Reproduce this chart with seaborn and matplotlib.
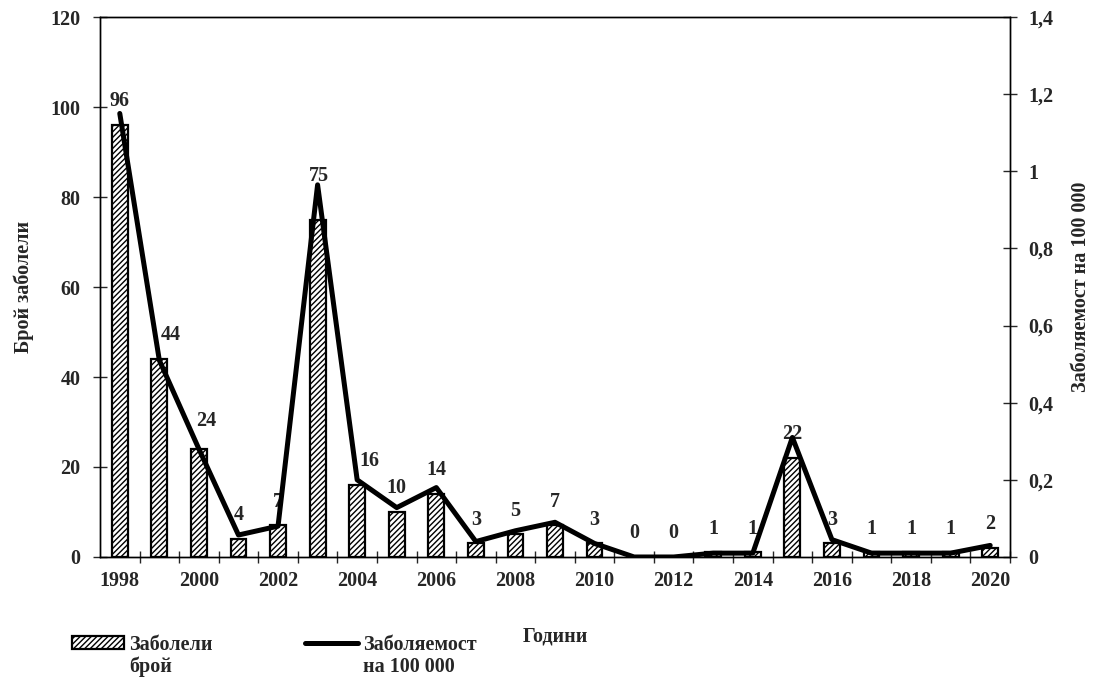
import numpy as np
import pandas as pd
import matplotlib
matplotlib.use("Agg")
import matplotlib.pyplot as plt
from matplotlib.patches import Patch
from matplotlib.lines import Line2D
from matplotlib.ticker import FixedLocator, FuncFormatter
import seaborn as sns

# Annual data
years = list(range(1998, 2021))
cases = [96, 44, 24, 4, 7, 75, 16, 10, 14, 3, 5, 7, 3, 0, 0, 1, 1, 22, 3, 1, 1, 1, 2]
incidence = [1.15, 0.51, 0.28, 0.057, 0.08, 0.965, 0.20, 0.128, 0.18, 0.04, 0.068, 0.09,
             0.035, 0.0, 0.0, 0.01, 0.01, 0.31, 0.045, 0.01, 0.01, 0.01, 0.03]

left_ticks = [0, 20, 40, 60, 80, 100, 120]
right_ticks = [0, 0.2, 0.4, 0.6, 0.8, 1.0, 1.2, 1.4]

legend_first = ["Заболели", "Заболяемост"]
legend_second = ["брой", "на 100 000"]

sns.set_style("white")
plt.rcParams["font.family"] = ["Liberation Serif", "DejaVu Serif"]
plt.rcParams["font.weight"] = "bold"
plt.rcParams["hatch.linewidth"] = 1.0

FS = 14.5
LFS = 14.5
LW = 3.6

df = pd.DataFrame({"year": years, "cases": cases, "incidence": incidence})
df["pos"] = np.arange(len(df))

fig = plt.figure(figsize=(10.94, 6.82), dpi=100)
ax = fig.add_axes([0.0914, 0.1833, 0.8318, 0.7917])

sns.barplot(data=df, x="pos", y="cases", color="white", edgecolor="black",
            linewidth=1.6, width=0.4, ax=ax, native_scale=True)
for p in ax.patches:
    p.set_hatch("//////")
    p.set_facecolor("white")
    p.set_edgecolor("black")

ax2 = ax.twinx()
sns.lineplot(data=df, x="pos", y="incidence", color="black", linewidth=LW, ax=ax2)

ax.set_xlim(-0.5, len(years) - 0.5)
ax.set_ylim(0, 120)
ax2.set_ylim(0, 1.4)

# x axis: year labels every second year, tick marks on category boundaries
ax.xaxis.set_major_locator(FixedLocator(list(range(0, len(years), 2))))
ax.set_xticklabels([str(y) for y in years[::2]])
ax.xaxis.set_minor_locator(FixedLocator(list(np.arange(0.5, len(years), 1.0))))
ax.tick_params(axis="x", which="major", length=0, pad=10, labelsize=FS)
ax.tick_params(axis="x", which="minor", length=8, width=1, direction="inout", bottom=True)

ax.set_yticks(left_ticks)
ax.tick_params(axis="y", length=10, width=1, direction="inout", labelsize=FS, pad=9, left=True)
ax2.set_yticks(right_ticks)
ax2.yaxis.set_major_formatter(FuncFormatter(lambda v, _: f"{v:g}".replace(".", ",")))
ax2.tick_params(axis="y", length=10, width=1, direction="inout", labelsize=FS, pad=8, right=True)

for a in (ax, ax2):
    for s in a.spines.values():
        s.set_color("black")
        s.set_linewidth(1.0)

ax.set_xlabel("Години", fontsize=FS, fontweight="bold", labelpad=26)
ax.set_ylabel("Брой заболели", fontsize=FS, fontweight="bold", labelpad=12)
ax2.set_ylabel("Заболяемост на 100 000", fontsize=FS, fontweight="bold", labelpad=13)

# value labels above the bars (some nudged away from the line)
nudge = {1999: (8, 0), 2000: (5, 3), 2003: (1, 14), 2004: (9, 0)}
for x, y, v in zip(df["pos"], df["cases"], df["year"]):
    dx, dy = nudge.get(v, (0, 0))
    ax.annotate(f"{y}", (x, y), xytext=(dx, 17 + dy), textcoords="offset points",
                ha="center", va="center", fontsize=FS, fontweight="bold", zorder=5)

handles = [Patch(facecolor="white", edgecolor="black", hatch="//////", linewidth=1.6),
           Line2D([0], [0], color="black", linewidth=LW)]
leg = fig.legend(handles, legend_first, ncol=2,
                 loc="upper left", bbox_to_anchor=(0.049, 0.096), frameon=False,
                 prop={"weight": "bold", "size": LFS},
                 handlelength=2.6, handleheight=0.6, handletextpad=0.25,
                 columnspacing=4.6)

# second line of each legend entry, aligned under the first
fig.canvas.draw()
renderer = fig.canvas.get_renderer()
inv = fig.transFigure.inverted()
for t, extra in zip(leg.get_texts(), legend_second):
    bb = t.get_window_extent(renderer)
    x0, y0 = inv.transform((bb.x0, bb.y0))
    fig.text(x0, y0 - 0.003, extra, ha="left", va="top",
             fontsize=LFS, fontweight="bold")

fig.savefig("out.png", dpi=100)
